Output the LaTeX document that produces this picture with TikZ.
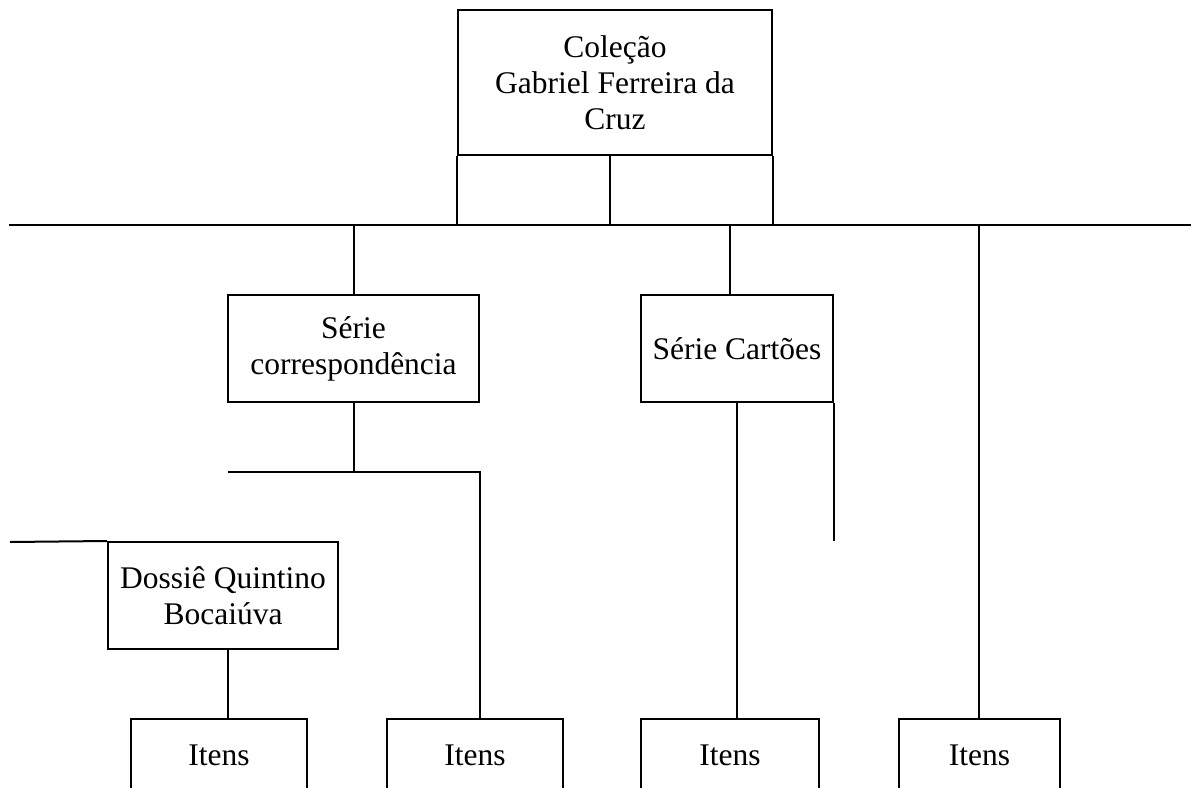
\documentclass[tikz,border=0pt]{standalone}
\usepackage{fontspec}
\setmainfont{Liberation Serif}
\begin{document}
\begin{tikzpicture}[x=1pt,y=-1pt,line width=2pt,
  box/.style={draw,rectangle,inner sep=0pt,align=center,font=\fontsize{31.5}{36}\selectfont},
  link/.style={draw}]
\useasboundingbox (0,0) rectangle (1191,787);
% nodes
\node[box,minimum width=314pt,minimum height=145pt] (col) at (615,82.5) {Coleção\\Gabriel Ferreira da\\Cruz};
\node[box,minimum width=251pt,minimum height=107pt] (corr) at (353.5,348.5) {Série\\correspondência};
\node[box,minimum width=192pt,minimum height=107pt] (cart) at (737,348.5) {Série Cartões};
\node[box,minimum width=230pt,minimum height=107pt] (dos) at (223,595.5) {Dossiê Quintino\\Bocaiúva};
\node[box,minimum width=176pt,minimum height=72pt] (it1) at (219,755) {Itens};
\node[box,minimum width=176pt,minimum height=72pt] (it2) at (475,755) {Itens};
\node[box,minimum width=178pt,minimum height=72pt] (it3) at (730,755) {Itens};
\node[box,minimum width=161pt,minimum height=72pt] (it4) at (979.5,755) {Itens};
% coordinates
\coordinate (L) at (9,225);
\coordinate (R) at (1191,225);
\coordinate (c1) at (730,225);
\coordinate (c4) at (979,225);
\coordinate (ja) at (228,472);
\coordinate (jb) at (480,472);
\coordinate (d0) at (10,542);
\coordinate (cs) at (610,155);
% lower part of top box
\draw[link] (col.south west) -- (col.south west |- L);
\draw[link] (col.south east) -- (col.south east |- L);
\draw[link] (cs) -- (cs |- L);
% main line
\draw[link] (L) -- (R);
% connectors
\draw[link] (corr.north |- L) -- (corr.north);
\draw[link] (c1) -- (c1 |- cart.north);
\draw[link] (cart.south) -- (cart.south |- it3.north);
\draw[link] (cart.south east) -- ++(0,138);
\draw[link] (c4) -- (c4 |- it4.north);
\draw[link] (corr.south) -- (corr.south |- ja);
\draw[link] (ja) -- (jb) -- (jb |- it2.north);
\draw[link] (d0) -- (dos.north west);
\draw[link] ([xshift=5pt]dos.south) -- ([xshift=5pt]dos.south |- it1.north);
\end{tikzpicture}
\end{document}
